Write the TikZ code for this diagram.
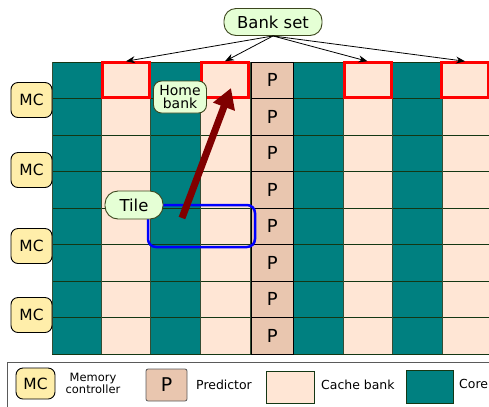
\documentclass[tikz,border=0pt]{standalone}
\usepackage{fontspec}
\setmainfont{DejaVu Sans}
\usetikzlibrary{arrows.meta,calc}

\definecolor{corefill}{RGB}{0,128,128}
\definecolor{cachefill}{RGB}{255,230,213}
\definecolor{predfill}{RGB}{233,198,175}
\definecolor{mcfill}{RGB}{255,238,170}
\definecolor{notefill}{RGB}{229,255,213}
\definecolor{noteline}{RGB}{60,70,30}
\definecolor{gridline}{RGB}{20,55,20}
\definecolor{arrowred}{RGB}{128,0,0}
\definecolor{legendline}{RGB}{90,90,90}

\tikzset{
  fs/.style={font=\fontsize{#1}{#1}\selectfont},
  mcbox/.style={draw=black, fill=mcfill, line width=0.9bp, rounded corners=7bp,
    minimum width=41bp, minimum height=35bp, inner sep=0pt, fs=15.5},
  predcell/.style={draw=black, fill=predfill, line width=0.8bp,
    minimum width=42.5bp, minimum height=36.5bp, inner sep=0pt, fs=18},
  bankbox/.style={draw=red, line width=3bp, minimum width=47bp, minimum height=35bp,
    inner sep=0pt},
  note/.style={draw=noteline, fill=notefill, line width=0.9bp, inner sep=0pt},
  bankarrow/.style={draw=black, line width=0.8bp, -{Stealth[length=9bp,width=7bp]}},
  movearrow/.style={draw=arrowred, line width=7bp, -{Triangle[width=22bp,length=20bp]}},
  tileframe/.style={draw=blue, line width=2.5bp, rounded corners=8bp,
    minimum width=107bp, minimum height=42bp, inner sep=0pt},
  legendtext/.style={inner sep=0pt, anchor=west, fs=12.5},
}

\begin{document}
\begin{tikzpicture}[x=1bp,y=-1bp]
\useasboundingbox (0,0) rectangle (489,406);

% tile columns: cores and cache banks
\foreach \xa/\xb/\c in {52/101.5/corefill, 101.5/150.5/cachefill, 150.5/200.5/corefill,
    200.5/250.5/cachefill, 293.5/343/corefill, 343/392/cachefill,
    392/442/corefill, 442/495/cachefill}
  \fill[fill=\c] (\xa,62) rectangle (\xb,354);

% grid lines
\foreach \i in {0,...,8} {
  \pgfmathsetmacro{\yy}{62+36.5*\i}
  \draw[gridline, line width=0.9bp] (52,\yy) -- (250.5,\yy);
  \draw[gridline, line width=0.9bp] (293.5,\yy) -- (495,\yy);
}
\foreach \xx in {52,101.5,150.5,200.5,250.5,293.5,343,392,442}
  \draw[gridline!70!gray, line width=0.9bp] (\xx,62) -- (\xx,354);

% predictor column
\foreach \i in {0,...,7}
  \node[predcell] (p\i) at (272.25,{80.25+36.5*\i}) {P};

% memory controllers
\node[mcbox] (mc1) at (31.5,100) {MC};
\node[mcbox] (mc2) at (31.5,170) {MC};
\node[mcbox] (mc3) at (31.5,246) {MC};
\node[mcbox] (mc4) at (31.5,315) {MC};

% banks of the bank set
\node[bankbox] (bank1) at (126,80.25) {};
\node[bankbox] (bank2) at (225,80.25) {};
\node[bankbox] (bank3) at (367.5,80.25) {};
\node[bankbox] (bank4) at (465,80.25) {};

% bank set label and its arrows
\node[note, rounded corners=12bp, minimum width=98bp, minimum height=27bp, fs=16.5]
  (bankset) at (273,22) {Bank set};
\foreach \b in {bank1,bank2,bank3,bank4}
  \draw[bankarrow] (bankset.south) -- (\b.north);

% tile outline
\node[tileframe] (tile) at (201.5,226) {};

% home bank label
\node[note, rounded corners=8bp, minimum width=53bp, minimum height=32bp,
  align=center, font=\fontsize{14}{14}\selectfont] (home) at (180,97) {Home\\bank};

% movement towards the home bank
\coordinate (tail) at (182,218);
\coordinate (tip) at (231,88);
\draw[movearrow] (tail) -- (tip);

% tile label
\node[note, rounded corners=13bp, minimum width=58bp, minimum height=28bp, fs=16.5]
  (tilelabel) at (134,205) {Tile};

% legend
\draw[legendline, line width=1bp] (7,362) rectangle (500,420);
\node[mcbox, minimum width=39bp, minimum height=31bp] (lmc) at (35.5,383.5) {MC};
\node[align=center, inner sep=0pt, font=\fontsize{11.5}{12}\selectfont]
  (lmctext) at (93,383) {Memory\\controller};
\node[predcell, draw=legendline, rounded corners=2bp, minimum width=41bp,
  minimum height=32bp, fs=19] (lp) at (166.5,385) {P};
\node[legendtext] (lptext) at (196,385) {Predictor};
\node[draw=gridline, fill=cachefill, line width=0.9bp, minimum width=48bp,
  minimum height=32bp] (lcache) at (290,387) {};
\node[legendtext] (lcachetext) at (321,385) {Cache bank};
\node[draw=gridline, fill=corefill, line width=0.9bp, minimum width=47bp,
  minimum height=33bp] (lcore) at (429.5,386.5) {};
\node[legendtext] (lcoretext) at (459,384) {Core};
\end{tikzpicture}
\end{document}
